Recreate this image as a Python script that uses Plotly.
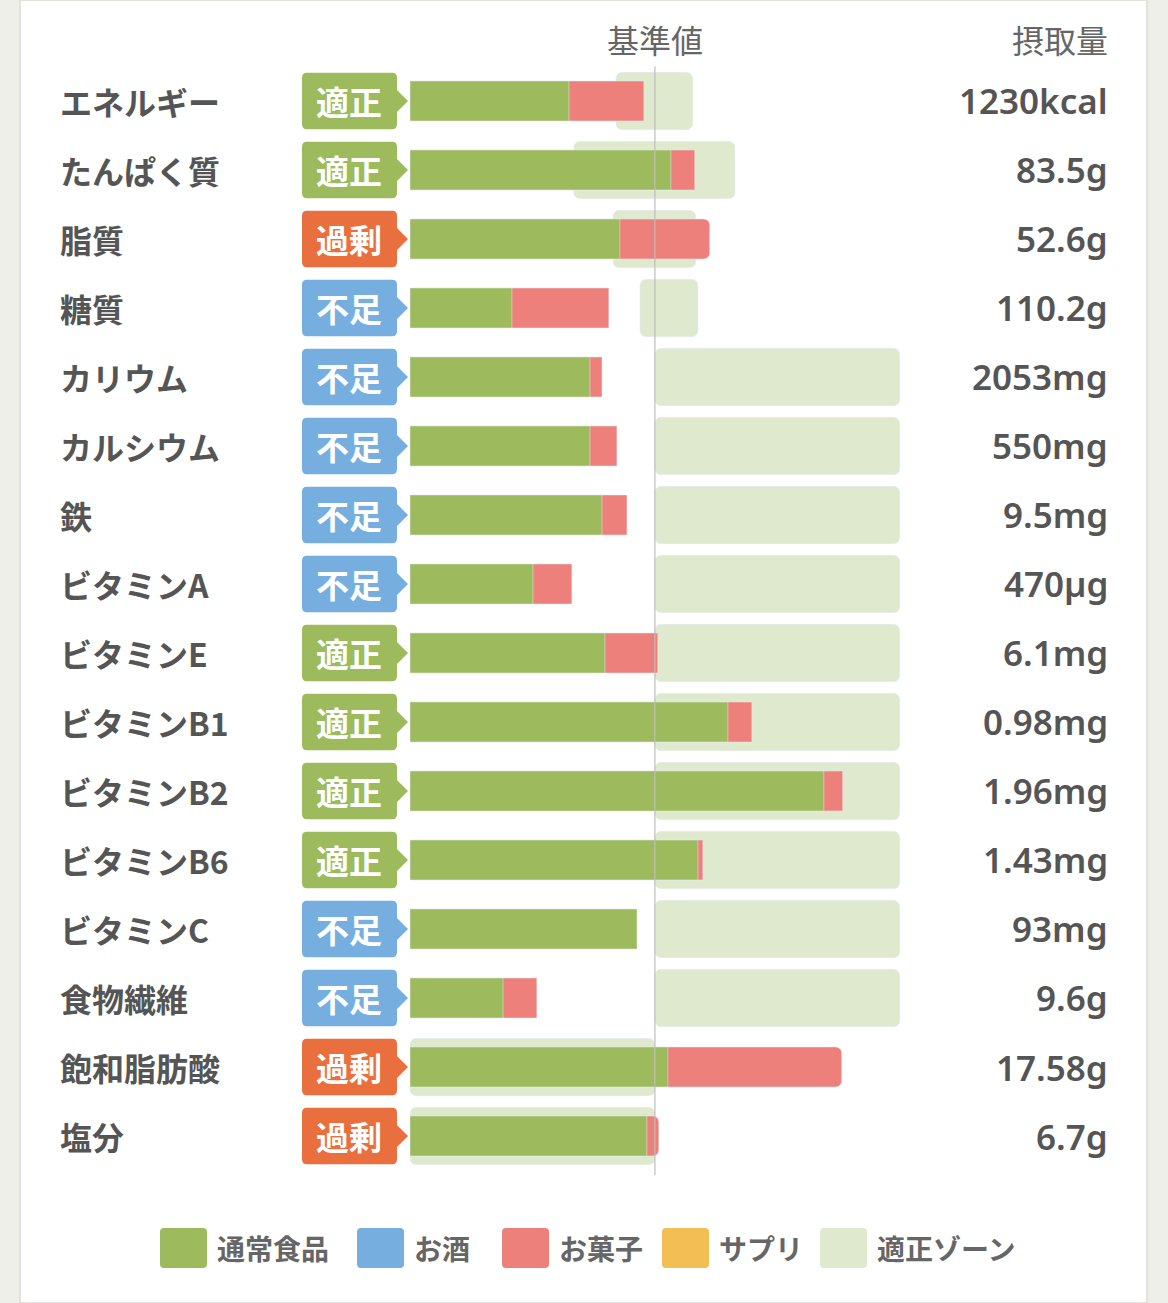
import plotly.graph_objects as go

# 栄養素ごとの摂取状況 (基準値 = 100 とした割合)
nutrients = ["エネルギー", "たんぱく質", "脂質", "糖質", "カリウム", "カルシウム", "鉄",
             "ビタミンA", "ビタミンE", "ビタミンB1", "ビタミンB2", "ビタミンB6",
             "ビタミンC", "食物繊維", "飽和脂肪酸", "塩分"]
status = ["適正", "適正", "過剰", "不足", "不足", "不足", "不足", "不足",
          "適正", "適正", "適正", "適正", "不足", "不足", "過剰", "過剰"]
intake_text = ["1230kcal", "83.5g", "52.6g", "110.2g", "2053mg", "550mg", "9.5mg", "470µg",
               "6.1mg", "0.98mg", "1.96mg", "1.43mg", "93mg", "9.6g", "17.58g", "6.7g"]
normal_food = [64.9, 106.5, 85.7, 41.6, 73.5, 73.5, 78.4, 50.2,
               79.6, 129.8, 169.0, 117.6, 92.7, 38.0, 105.3, 96.7]
snacks = [30.6, 9.8, 36.7, 39.6, 4.9, 11.0, 10.2, 15.9,
          21.6, 9.8, 7.7, 2.0, 0.0, 13.8, 71.0, 4.9]
zone_low = [84.1, 66.9, 82.9, 93.9, 100, 100, 100, 100,
            100, 100, 100, 100, 100, 100, 0, 0]
zone_high = [115.5, 132.7, 116.7, 117.6, 200, 200, 200, 200,
             200, 200, 200, 200, 200, 200, 100, 100]
standard = 100

legend_names = ["通常食品", "お酒", "お菓子", "サプリ", "適正ゾーン"]

W, H = 1168, 1303
GREEN = "#9dbb5d"
BLUE = "#76aedf"
PINK = "#ee807c"
YELLOW = "#f3bf55"
ZONE = "#dfe9cd"
ORANGE = "#e9703e"
TEXT = "#555555"
legend_colors = [GREEN, BLUE, PINK, YELLOW, ZONE]
legend_left_px = [160, 357, 502, 662, 820]
badge_colors = {"適正": GREEN, "過剰": ORANGE, "不足": BLUE}

JP = "Noto Sans CJK JP"
NUM = "Noto Sans, Noto Sans CJK JP"

rows = list(range(len(nutrients)))
totals = [n + s for n, s in zip(normal_food, snacks)]

fig = go.Figure()
fig.add_trace(go.Bar(y=rows, x=[h - l for l, h in zip(zone_low, zone_high)], base=zone_low,
                     orientation="h", width=0.83, marker=dict(color=ZONE, cornerradius=6),
                     name="適正ゾーン", hoverinfo="skip"))
fig.add_trace(go.Bar(y=rows, x=totals, orientation="h", width=0.58,
                     marker=dict(color=PINK, cornerradius=6), name="お菓子",
                     customdata=snacks, hovertemplate="%{customdata}<extra>お菓子</extra>"))
fig.add_trace(go.Bar(y=rows, x=normal_food, orientation="h", width=0.58,
                     marker=dict(color=GREEN, cornerradius=0), name="通常食品"))


def px_x(p):
    return p / W


def px_y(p):
    return 1 - p / H


shapes = []
annotations = []

# white card
shapes.append(dict(type="rect", xref="paper", yref="paper", x0=px_x(20), x1=px_x(1147),
                   y0=0, y1=1, fillcolor="white", line=dict(color="#e3e3db", width=2),
                   layer="below"))

# 基準値 line
shapes.append(dict(type="line", xref="x", yref="y domain", x0=standard, x1=standard,
                   y0=-0.004, y1=1, line=dict(color="#bdbdbd", width=1.2), layer="above"))

# status badges
bx0, bx1, tip = px_x(302), px_x(397), px_x(408)
rx, ry, hh, ah = px_x(5), 5 / 69, 0.41, 0.16
for i, st in enumerate(status):
    yt, yb = i - hh, i + hh
    path = (f"M{bx0 + rx},{yt} L{bx1 - rx},{yt} Q{bx1},{yt} {bx1},{yt + ry} "
            f"L{bx1},{i - ah} L{tip},{i} L{bx1},{i + ah} L{bx1},{yb - ry} "
            f"Q{bx1},{yb} {bx1 - rx},{yb} L{bx0 + rx},{yb} Q{bx0},{yb} {bx0},{yb - ry} "
            f"L{bx0},{yt + ry} Q{bx0},{yt} {bx0 + rx},{yt} Z")
    shapes.append(dict(type="path", xref="paper", yref="y", path=path,
                       fillcolor=badge_colors[st], line=dict(width=0), layer="above"))
    annotations.append(dict(xref="paper", yref="y", x=(bx0 + bx1) / 2 - px_x(1), y=i, text=st,
                            showarrow=False, xanchor="center", yanchor="middle",
                            font=dict(family=JP, size=33, color="white", weight=700)))

for i, (name, val) in enumerate(zip(nutrients, intake_text)):
    annotations.append(dict(xref="paper", yref="y", x=px_x(58), y=i, text=name,
                            showarrow=False, xanchor="left", yanchor="middle",
                            font=dict(family=JP, size=32, color=TEXT, weight=700)))
    annotations.append(dict(xref="paper", yref="y", x=px_x(1110), y=i, text=val,
                            showarrow=False, xanchor="right", yanchor="middle",
                            font=dict(family=NUM, size=35, color=TEXT, weight=600)))

# headers
annotations.append(dict(xref="x", yref="paper", x=standard, y=px_y(39), text="基準値",
                        showarrow=False, xanchor="center", yanchor="middle",
                        font=dict(family=JP, size=32, color="#666666")))
annotations.append(dict(xref="paper", yref="paper", x=px_x(1110), y=px_y(39), text="摂取量",
                        showarrow=False, xanchor="right", yanchor="middle",
                        font=dict(family=JP, size=32, color="#666666")))

# custom legend
ly, sq_w, sq_h, fs = 1248, 47, 40, 28
for name, color, lx in zip(legend_names, legend_colors, legend_left_px):
    x0, x1 = lx, lx + sq_w
    y0, y1 = ly - sq_h / 2, ly + sq_h / 2
    r = 4
    path = (f"M{px_x(x0 + r)},{px_y(y0)} L{px_x(x1 - r)},{px_y(y0)} Q{px_x(x1)},{px_y(y0)} {px_x(x1)},{px_y(y0 + r)} "
            f"L{px_x(x1)},{px_y(y1 - r)} Q{px_x(x1)},{px_y(y1)} {px_x(x1 - r)},{px_y(y1)} "
            f"L{px_x(x0 + r)},{px_y(y1)} Q{px_x(x0)},{px_y(y1)} {px_x(x0)},{px_y(y1 - r)} "
            f"L{px_x(x0)},{px_y(y0 + r)} Q{px_x(x0)},{px_y(y0)} {px_x(x0 + r)},{px_y(y0)} Z")
    shapes.append(dict(type="path", xref="paper", yref="paper", path=path,
                       fillcolor=color, line=dict(width=0)))
    annotations.append(dict(xref="paper", yref="paper", x=px_x(x1 + 8), y=px_y(ly), text=name,
                            showarrow=False, xanchor="left", yanchor="middle",
                            font=dict(family=JP, size=fs, color="#666666", weight=700)))

fig.update_layout(
    width=W, height=H,
    margin=dict(l=0, r=0, t=0, b=0),
    paper_bgcolor="#efefe9",
    plot_bgcolor="rgba(0,0,0,0)",
    barmode="overlay",
    showlegend=False,
    xaxis=dict(domain=[px_x(410), px_x(912)], range=[0, 205], visible=False, fixedrange=True),
    yaxis=dict(domain=[px_y(1170.5), px_y(66.5)], range=[15.5, -0.5], visible=False,
               fixedrange=True),
    shapes=shapes,
    annotations=annotations,
)

fig.write_html("out.html", config={"displayModeBar": False},
               post_script="document.body.style.margin='0';")
